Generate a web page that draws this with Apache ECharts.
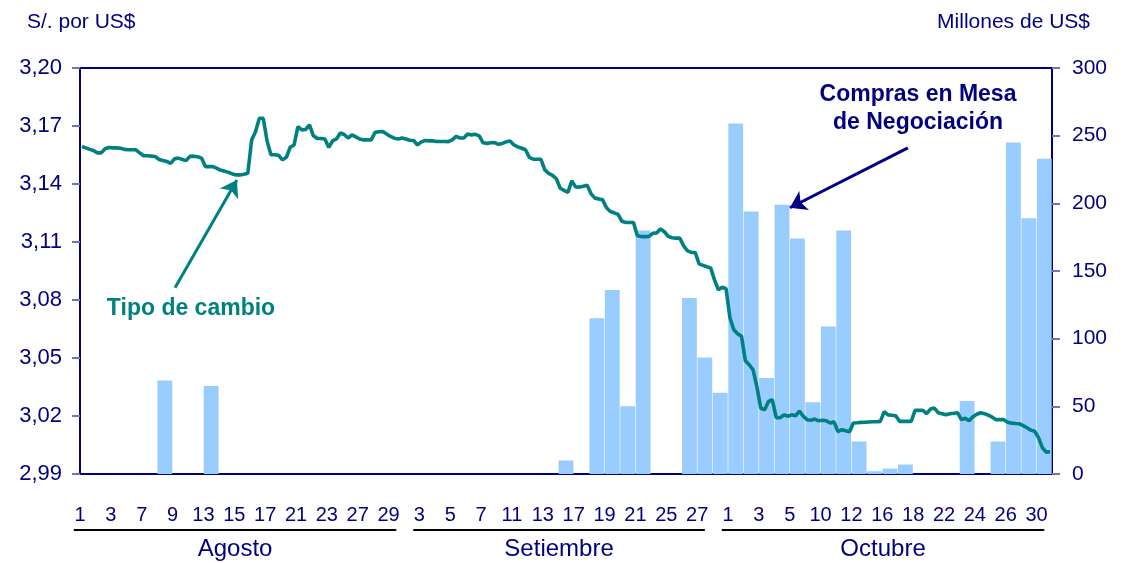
<!DOCTYPE html>
<html>
<head>
<meta charset="utf-8">
<script src="https://cdn.jsdelivr.net/npm/echarts@6/dist/echarts.min.js"></script>
<style>
	html, body { margin: 0; padding: 0; background: #ffffff; }
	#chart { width: 1124px; height: 563px; }
</style>
</head>
<body>
<div id="chart"></div>
<script>
//Trading days Aug - Oct 2007 (30 Aug and 8 Oct are holidays)
let augDays = [1, 2, 3, 6, 7, 8, 9, 10, 13, 14, 15, 16, 17, 20, 21, 22, 23, 24, 27, 28, 29, 31];
let sepDays = [3, 4, 5, 6, 7, 10, 11, 12, 13, 14, 17, 18, 19, 20, 21, 24, 25, 26, 27, 28];
let octDays = [1, 2, 3, 4, 5, 9, 10, 11, 12, 15, 16, 17, 18, 19, 22, 23, 24, 25, 26, 29, 30];
let monthNames = ['Agosto', 'Setiembre', 'Octubre'];

//Compras en Mesa de Negociacion (millones de US$), one per trading day
let augBuys = [0, 0, 0, 0, 0, 69, 0, 0, 65, 0, 0, 0, 0, 0, 0, 0, 0, 0, 0, 0, 0, 0];
let sepBuys = [0, 0, 0, 0, 0, 0, 0, 0, 0, 10, 0, 115, 136, 50, 180, 0, 0, 130, 86, 60];
let octBuys = [259, 194, 71, 199, 174, 53, 109, 180, 24, 2, 4, 7, 0, 0, 0, 54, 0, 24, 245, 189, 233];

//Tipo de cambio (S/. por US$), 4 readings per trading day
let fxPerDay = 4;
let fxRate = [
	3.1595, 3.1587, 3.1579, 3.1573,  3.1561, 3.1561, 3.1582, 3.1589,  3.1587, 3.1587, 3.1585, 3.1579,
	3.1577, 3.1577, 3.1577, 3.1561,  3.1546, 3.1546, 3.1544, 3.1542,  3.1527, 3.1522, 3.1517, 3.1507,
	3.1530, 3.1534, 3.1527, 3.1521,  3.1543, 3.1544, 3.1541, 3.1534,  3.1490, 3.1490, 3.1490, 3.1481,
	3.1471, 3.1466, 3.1460, 3.1452,  3.1447, 3.1447, 3.1450, 3.1455,  3.1628, 3.1670, 3.1740, 3.1740,
	3.1623, 3.1551, 3.1551, 3.1548,  3.1525, 3.1538, 3.1590, 3.1602,  3.1697, 3.1680, 3.1682, 3.1706,
	3.1649, 3.1636, 3.1635, 3.1633,  3.1589, 3.1623, 3.1633, 3.1664,  3.1656, 3.1638, 3.1654, 3.1644,
	3.1633, 3.1628, 3.1628, 3.1628,  3.1667, 3.1670, 3.1671, 3.1659,  3.1646, 3.1637, 3.1633, 3.1638,
	3.1633, 3.1626, 3.1625, 3.1602,
	3.1618, 3.1625, 3.1623, 3.1623,  3.1620, 3.1620, 3.1620, 3.1619,  3.1628, 3.1646, 3.1638, 3.1638,
	3.1659, 3.1654, 3.1657, 3.1649,  3.1613, 3.1610, 3.1613, 3.1614,  3.1605, 3.1610, 3.1618, 3.1623,
	3.1602, 3.1592, 3.1585, 3.1577,  3.1538, 3.1528, 3.1528, 3.1528,  3.1473, 3.1455, 3.1445, 3.1427,
	3.1378, 3.1367, 3.1357, 3.1416,  3.1385, 3.1384, 3.1388, 3.1393,  3.1349, 3.1327, 3.1323, 3.1318,
	3.1277, 3.1258, 3.1251, 3.1243,  3.1207, 3.1201, 3.1201, 3.1201,  3.1132, 3.1128, 3.1128, 3.1129,
	3.1145, 3.1147, 3.1168, 3.1153,  3.1129, 3.1122, 3.1120, 3.1120,  3.1080, 3.1054, 3.1046, 3.1046,
	3.0987, 3.0979, 3.0972, 3.0966,  3.0904, 3.0853, 3.0866, 3.0858,
	3.0708, 3.0646, 3.0625, 3.0612,  3.0486, 3.0465, 3.0439, 3.0351,  3.0240, 3.0232, 3.0275, 3.0284,
	3.0191, 3.0191, 3.0206, 3.0199,  3.0206, 3.0201, 3.0225, 3.0199,  3.0181, 3.0178, 3.0184, 3.0175,
	3.0178, 3.0175, 3.0164, 3.0170,  3.0119, 3.0129, 3.0124, 3.0119,  3.0164, 3.0165, 3.0167, 3.0168,
	3.0169, 3.0170, 3.0170, 3.0172,  3.0222, 3.0206, 3.0204, 3.0201,  3.0172, 3.0172, 3.0172, 3.0172,
	3.0229, 3.0229, 3.0229, 3.0212,  3.0236, 3.0241, 3.0217, 3.0212,  3.0206, 3.0212, 3.0214, 3.0217,
	3.0181, 3.0188, 3.0175, 3.0196,  3.0209, 3.0217, 3.0212, 3.0204,  3.0194, 3.0181, 3.0181, 3.0181,
	3.0168, 3.0163, 3.0161, 3.0160,  3.0150, 3.0139, 3.0127, 3.0121,  3.0088, 3.0036, 3.0013, 3.0015
];

//Axis ticks
let fxTicks = [2.99, 3.02, 3.05, 3.08, 3.11, 3.14, 3.17, 3.20];
let buyTicks = [0, 50, 100, 150, 200, 250, 300];

const NAVY = '#000080';
const TEAL = '#008080';
const BAR_BLUE = '#99CCFF';
const FONT = '"Liberation Sans", Arial, sans-serif';

//Build the day list
let days = [];
let dayLabels = [];
let monthSpans = [];
[augDays, sepDays, octDays].forEach(function (list, m) {
	let first = days.length;
	list.forEach(function (d) {
		days.push(m + '-' + d);
		dayLabels.push(String(d));
	});
	let last = days.length - 1;
	//last labelled day (every other day gets a label)
	let lastLabel = last % 2 === 0 ? last : last - 1;
	monthSpans.push([first, lastLabel]);
});
let purchases = augBuys.concat(sepBuys, octBuys);
let fxPoints = fxRate.map(function (v, i) {
	return [(i + 0.5) / fxPerDay, v];
});
let labelDays = [];
for (let i = 0; i < days.length; i += 2) {
	labelDays.push(i);
}

let chart = echarts.init(document.getElementById('chart'));

let option = {
	animation: false,
	backgroundColor: '#ffffff',
	grid: {
		left: 80, right: 72, top: 68, bottom: 89,
		show: true, borderColor: NAVY, borderWidth: 2, backgroundColor: 'transparent'
	},
	xAxis: [
		{
			type: 'category', data: days, boundaryGap: true, show: false
		},
		{
			type: 'value', min: 0, max: days.length, position: 'bottom',
			axisLine: { show: true, onZero: false, lineStyle: { color: NAVY, width: 2 } },
			axisTick: { show: false },
			splitLine: { show: false },
			axisLabel: {
				customValues: labelDays,
				margin: 31,
				color: NAVY,
				fontSize: 20,
				fontFamily: FONT,
				formatter: function (v) { return dayLabels[v]; }
			}
		}
	],
	yAxis: [
		{
			type: 'value', min: 2.99, max: 3.20, position: 'left',
			axisLine: { show: true, lineStyle: { color: NAVY, width: 2 } },
			axisTick: { show: true, length: 8, customValues: fxTicks, lineStyle: { color: '#7373B8', width: 2 } },
			axisLabel: {
				customValues: fxTicks, margin: 18, color: NAVY, fontSize: 22, fontFamily: FONT,
				formatter: function (v) { return v.toFixed(2).replace('.', ','); }
			},
			splitLine: { show: false }
		},
		{
			type: 'value', min: 0, max: 300, position: 'right',
			axisLine: { show: true, lineStyle: { color: NAVY, width: 2 } },
			axisTick: { show: true, length: 8, customValues: buyTicks, lineStyle: { color: '#7373B8', width: 2 } },
			axisLabel: { customValues: buyTicks, margin: 20, color: NAVY, fontSize: 21, fontFamily: FONT },
			splitLine: { show: false }
		}
	],
	series: [
		{
			name: 'Compras en Mesa de Negociación',
			type: 'bar',
			xAxisIndex: 0, yAxisIndex: 1,
			data: purchases,
			barCategoryGap: '4%',
			itemStyle: { color: BAR_BLUE },
			z: 1
		},
		{
			name: 'Tipo de cambio',
			type: 'line',
			xAxisIndex: 1, yAxisIndex: 0,
			data: fxPoints,
			showSymbol: false,
			lineStyle: { color: TEAL, width: 3.6 },
			z: 3,
			markLine: {
				silent: true,
				symbol: ['none', 'arrow'],
				symbolSize: 16,
				label: { show: false },
				data: [
					[
						{ coord: [6.16, 3.0863], lineStyle: { color: TEAL, width: 3, type: 'solid' }, itemStyle: { color: TEAL } },
						{ coord: [10.17, 3.1421] }
					],
					[
						{ coord: [53.66, 3.1587], lineStyle: { color: NAVY, width: 3, type: 'solid' }, itemStyle: { color: NAVY } },
						{ coord: [46.01, 3.1277] }
					]
				]
			}
		}
	]
};
chart.setOption(option);

//Titles, notes and month captions (captions follow the axis scale)
let graphics = [
	{ type: 'text', style: { text: 'S/. por US$', x: 27, y: 22, fill: NAVY, font: '21px ' + FONT, textAlign: 'left', textVerticalAlign: 'middle' } },
	{ type: 'text', style: { text: 'Millones de US$', x: 1090, y: 22, fill: NAVY, font: '21px ' + FONT, textAlign: 'right', textVerticalAlign: 'middle' } },
	{ type: 'text', style: { text: 'Tipo de cambio', x: 191, y: 309, fill: TEAL, font: 'bold 23px ' + FONT, textAlign: 'center', textVerticalAlign: 'middle' } },
	{ type: 'text', style: { text: 'Compras en Mesa', x: 918, y: 95, fill: NAVY, font: 'bold 23px ' + FONT, textAlign: 'center', textVerticalAlign: 'middle' } },
	{ type: 'text', style: { text: 'de Negociación', x: 918, y: 123, fill: NAVY, font: 'bold 23px ' + FONT, textAlign: 'center', textVerticalAlign: 'middle' } }
];
monthSpans.forEach(function (span, m) {
	let x1 = chart.convertToPixel({ xAxisIndex: 1 }, span[0] - 0.4);
	let x2 = chart.convertToPixel({ xAxisIndex: 1 }, span[1] + 0.5);
	graphics.push({
		type: 'line',
		shape: { x1: x1, y1: 530, x2: x2, y2: 530 },
		style: { stroke: '#000000', lineWidth: 2 }
	});
	graphics.push({
		type: 'text',
		style: { text: monthNames[m], x: (x1 + x2) / 2, y: 549, fill: NAVY, font: '24px ' + FONT, textAlign: 'center', textVerticalAlign: 'middle' }
	});
});
chart.setOption({ graphic: graphics });
</script>
</body>
</html>
